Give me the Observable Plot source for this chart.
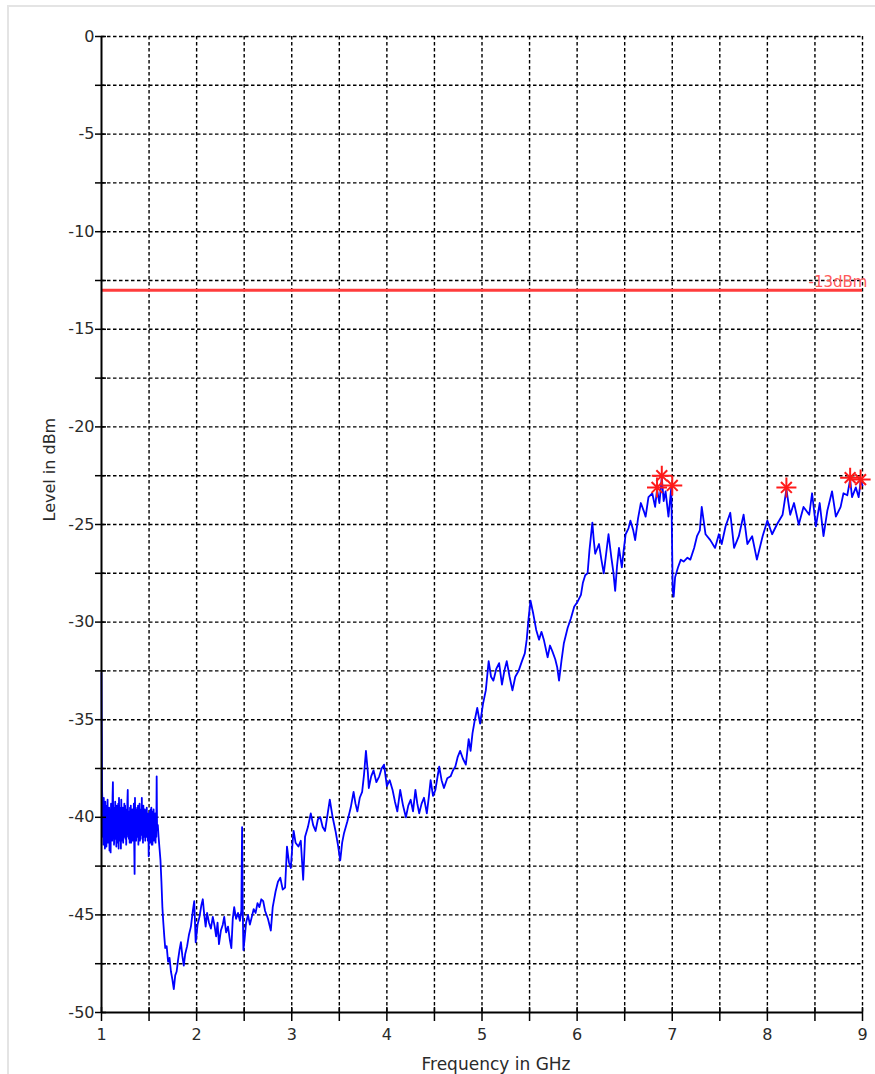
<!DOCTYPE html>
<html>
<head>
<meta charset="utf-8">
<script src="https://cdn.jsdelivr.net/npm/d3@7"></script>
<script src="https://cdn.jsdelivr.net/npm/@observablehq/plot@0.6"></script>
<style>
  html, body { margin: 0; padding: 0; background: #fff; }
  #wrap { position: relative; width: 875px; height: 1074px; overflow: hidden; }
  #frame { position: absolute; left: 7px; top: 5px; width: 870px; height: 1075px;
           border-top: 2px solid #e4e4e4; border-left: 2px solid #e4e4e4; pointer-events: none; }
  #chart { position: absolute; left: 0; top: 0; }
</style>
</head>
<body>
<div id="wrap"><div id="chart"></div><div id="frame"></div></div>
<script>
// ---- data ----
const xTitle = "Frequency in GHz";
const yTitle = "Level in dBm";
const xTicks = [1, 2, 3, 4, 5, 6, 7, 8, 9];
const xMinor = [1, 1.5, 2, 2.5, 3, 3.5, 4, 4.5, 5, 5.5, 6, 6.5, 7, 7.5, 8, 8.5, 9];
const yTicks = [0, -5, -10, -15, -20, -25, -30, -35, -40, -45, -50];
const yMinor = [0, -2.5, -5, -7.5, -10, -12.5, -15, -17.5, -20, -22.5, -25, -27.5, -30, -32.5, -35, -37.5, -40, -42.5, -45, -47.5, -50];

const limitLevel = -13;
const limitLabel = "-13dBm";

const markerFreq  = [6.84, 6.89, 7.00, 8.20, 8.87, 8.98];
const markerLevel = [-23.1, -22.5, -23.0, -23.1, -22.6, -22.7];

// [frequency GHz, level dBm]
const noiseBand = [
 [1.000,-32.6],[1.002,-34.9],[1.004,-36.2],[1.006,-38.6],
 [1.008,-38.9],[1.012,-41.0],[1.016,-39.3],[1.020,-41.4],[1.024,-39.0],[1.028,-40.9],[1.032,-39.6],[1.036,-41.6],[1.040,-39.2],[1.044,-41.1],
 [1.048,-39.7],[1.052,-41.5],[1.056,-39.4],[1.060,-40.8],[1.064,-39.1],[1.068,-41.3],[1.072,-39.8],[1.076,-41.0],[1.080,-39.5],[1.084,-41.7],
 [1.088,-39.6],[1.092,-40.9],[1.096,-41.8],[1.100,-39.3],[1.104,-40.7],[1.108,-39.4],[1.112,-41.2],[1.116,-39.0],[1.120,-38.2],[1.124,-40.9],
 [1.128,-39.5],[1.132,-41.4],[1.136,-39.9],[1.140,-41.0],[1.144,-39.2],[1.148,-41.1],[1.152,-39.6],[1.156,-41.5],[1.160,-39.4],[1.164,-40.8],
 [1.168,-39.7],[1.172,-41.3],[1.176,-39.3],[1.180,-41.6],[1.184,-39.0],[1.188,-40.9],[1.192,-39.8],[1.196,-41.2],[1.200,-39.5],[1.204,-41.6],
 [1.208,-39.1],[1.212,-41.2],[1.216,-39.6],[1.220,-40.9],[1.224,-39.5],[1.228,-41.3],[1.232,-39.9],[1.236,-41.0],[1.240,-39.3],[1.244,-40.7],
 [1.248,-39.4],[1.252,-41.1],[1.256,-39.8],[1.260,-41.4],[1.264,-39.6],[1.268,-41.0],[1.272,-39.2],[1.276,-38.6],[1.280,-40.8],[1.284,-39.7],
 [1.288,-41.1],[1.292,-39.8],[1.296,-41.3],[1.300,-39.5],[1.304,-40.9],[1.308,-39.4],[1.312,-41.3],[1.316,-39.9],[1.320,-41.0],[1.324,-39.6],
 [1.328,-41.2],[1.332,-39.6],[1.336,-40.7],[1.340,-39.3],[1.344,-41.4],[1.348,-42.9],[1.352,-39.0],[1.356,-40.9],[1.360,-39.6],[1.364,-41.2],
 [1.368,-39.8],[1.372,-41.0],[1.376,-39.5],[1.380,-40.7],[1.384,-39.4],[1.388,-41.4],[1.392,-39.7],[1.396,-40.8],[1.400,-39.3],[1.404,-41.2],
 [1.408,-39.7],[1.412,-41.1],[1.416,-39.6],[1.420,-40.9],[1.424,-39.0],[1.428,-40.9],[1.432,-39.8],[1.436,-41.3],[1.440,-39.4],[1.444,-41.0],
 [1.448,-39.8],[1.452,-40.6],[1.456,-39.6],[1.460,-41.2],[1.464,-39.9],[1.468,-41.0],[1.472,-40.1],[1.476,-39.5],[1.480,-41.0],[1.484,-39.8],
 [1.488,-41.2],[1.492,-39.9],[1.496,-42.0],[1.500,-39.8],[1.504,-41.1],[1.508,-39.7],[1.512,-41.3],[1.516,-39.6],[1.520,-40.9],[1.524,-39.5],
 [1.528,-41.4],[1.532,-39.9],[1.536,-41.4],[1.540,-39.7],[1.544,-40.9],[1.548,-39.6],[1.552,-41.2],[1.556,-40.0],[1.560,-41.2],[1.564,-39.8],
 [1.568,-41.3],[1.572,-40.2],[1.576,-41.0],[1.580,-37.9],[1.584,-40.5]
];
const lowBand = [
 [1.592,-40.4],[1.600,-41.0],[1.610,-41.6],[1.620,-42.2],[1.630,-43.3],[1.640,-44.6],[1.650,-45.4],[1.660,-46.1],
 [1.670,-46.7],[1.685,-46.6],[1.700,-47.4],[1.715,-47.2],[1.730,-47.9],[1.745,-48.3],[1.760,-48.8],[1.775,-48.1],
 [1.790,-47.9],[1.805,-47.3],[1.820,-46.8],[1.835,-46.4],[1.850,-47.1],[1.865,-47.6],[1.880,-47.0],[1.900,-46.6],
 [1.920,-46.0],[1.940,-45.6],[1.960,-44.8],[1.975,-44.3],[1.990,-46.4],[2.010,-45.5],[2.030,-45.1],[2.050,-44.5],
 [2.065,-44.2],[2.080,-45.0],[2.095,-45.6],[2.110,-44.9],[2.130,-45.4],[2.150,-45.7],[2.170,-45.1],[2.190,-45.6],
 [2.205,-46.1],[2.220,-45.4],[2.235,-46.5],[2.255,-45.8],[2.275,-45.5],[2.290,-45.1],[2.310,-45.9],[2.330,-45.6],
 [2.350,-46.3],[2.365,-46.7],[2.380,-45.2],[2.395,-44.6],[2.415,-45.2],[2.435,-44.9],[2.455,-45.3],[2.470,-44.8],
 [2.478,-40.5],[2.484,-44.5],[2.492,-46.8],[2.505,-46.2],[2.520,-45.4],[2.540,-45.0],[2.560,-45.5],[2.580,-45.1],
 [2.600,-44.7],[2.620,-44.9],[2.640,-44.4],[2.660,-44.6],[2.680,-44.2]
];
const midLowBand = [
 [2.700,-44.3],[2.720,-44.8],[2.750,-45.2],[2.780,-45.8],[2.800,-44.6],[2.830,-43.8],[2.855,-43.3],[2.880,-43.1],
 [2.905,-43.7],[2.930,-43.6],[2.950,-41.5],[2.970,-42.3],[2.990,-42.6],[3.010,-41.2],[3.020,-40.7],[3.040,-41.3],
 [3.070,-41.5],[3.095,-41.2],[3.120,-43.2],[3.140,-41.0],[3.170,-40.5],[3.200,-39.8],[3.225,-40.4],[3.250,-40.7],
 [3.275,-40.1],[3.300,-40.0],[3.325,-40.5],[3.350,-40.7],[3.375,-39.9],[3.400,-39.1],[3.430,-40.0],[3.460,-40.7],
 [3.485,-41.4],[3.510,-42.2],[3.530,-41.3],[3.550,-40.8],[3.585,-40.2],[3.620,-39.5],[3.650,-38.7],[3.670,-39.3],
 [3.690,-39.7],[3.715,-39.0],[3.740,-38.7],[3.760,-37.8],[3.780,-36.6],[3.800,-37.7],[3.810,-38.5],[3.835,-37.9],
 [3.860,-37.6],[3.890,-38.2],[3.920,-37.9],[3.945,-37.5],[3.970,-37.3],[4.000,-38.4],[4.030,-38.1],[4.060,-38.6],
 [4.085,-39.2],[4.110,-39.7],[4.140,-38.6],[4.170,-39.4],[4.200,-40.0],[4.225,-39.4],[4.250,-39.1],[4.275,-39.7],
 [4.300,-38.6],[4.320,-39.3],[4.340,-39.8],[4.365,-39.3],[4.390,-39.0],[4.420,-39.8],[4.440,-39.0],[4.460,-38.1],
 [4.485,-38.9],[4.510,-38.6],[4.530,-38.0],[4.550,-37.4],[4.575,-38.1],[4.600,-38.5],[4.635,-38.0],[4.670,-37.9],
 [4.695,-37.6],[4.720,-37.4],[4.745,-36.9],[4.770,-36.6],[4.800,-37.0],[4.830,-37.3],[4.860,-36.0],[4.880,-36.6]
];
const midHighBand = [
 [4.900,-35.7],[4.925,-35.0],[4.950,-34.4],[4.980,-35.2],[5.010,-34.2],[5.040,-33.5],[5.070,-32.0],[5.095,-32.8],
 [5.120,-33.0],[5.150,-32.4],[5.180,-32.1],[5.210,-33.2],[5.235,-32.5],[5.260,-32.0],[5.290,-32.8],[5.320,-33.5],
 [5.350,-32.8],[5.385,-32.5],[5.420,-32.0],[5.450,-31.6],[5.470,-30.9],[5.490,-29.8],[5.510,-28.9],[5.540,-29.6],
 [5.570,-30.4],[5.600,-30.9],[5.625,-30.5],[5.650,-30.9],[5.690,-31.8],[5.715,-31.2],[5.740,-31.5],[5.770,-31.9],
 [5.790,-32.3],[5.810,-33.0],[5.835,-32.0],[5.860,-31.1],[5.900,-30.3],[5.935,-29.8],[5.970,-29.2],[6.000,-29.0],
 [6.040,-28.6],[6.060,-28.0],[6.085,-27.6],[6.110,-27.5],[6.130,-26.3],[6.160,-24.9],[6.175,-25.8],[6.190,-26.5],
 [6.230,-26.0],[6.255,-26.8],[6.280,-27.5],[6.310,-26.3],[6.330,-25.5],[6.360,-26.7],[6.380,-27.4],[6.400,-28.4],
 [6.420,-27.1],[6.440,-26.2],[6.470,-27.2],[6.490,-26.3],[6.510,-25.5],[6.540,-25.2],[6.560,-24.8],[6.590,-25.3],
 [6.610,-25.8],[6.640,-24.7],[6.670,-23.9],[6.700,-24.3],[6.720,-24.6],[6.750,-23.6],[6.790,-23.4],[6.820,-24.1],
 [6.840,-23.2],[6.865,-23.9],[6.890,-22.6],[6.910,-23.8],[6.930,-23.3],[6.960,-24.6],[6.990,-23.1]
];
const highBand = [
 [7.005,-28.4],[7.015,-28.7],[7.030,-27.7],[7.060,-27.2],[7.090,-26.8],[7.120,-26.9],[7.160,-26.7],[7.190,-26.8],
 [7.230,-26.2],[7.260,-25.6],[7.290,-25.3],[7.310,-24.1],[7.350,-25.5],[7.400,-25.8],[7.450,-26.2],[7.490,-25.5],
 [7.520,-26.0],[7.560,-25.1],[7.610,-24.4],[7.650,-26.2],[7.700,-25.6],[7.750,-24.5],[7.790,-26.0],[7.840,-25.6],
 [7.890,-26.8],[7.950,-25.6],[8.000,-24.8],[8.050,-25.5],[8.100,-25.0],[8.160,-24.5],[8.200,-23.2],[8.240,-24.5],
 [8.280,-23.9],[8.330,-25.0],[8.380,-24.1],[8.440,-24.5],[8.470,-23.4],[8.510,-25.1],[8.550,-23.9],[8.590,-25.6],
 [8.630,-24.3],[8.680,-23.3],[8.720,-24.6],[8.770,-24.1],[8.800,-23.4],[8.840,-23.5],[8.870,-22.7],[8.890,-23.6],
 [8.930,-23.1],[8.960,-23.6],[8.980,-22.8],[9.000,-23.0]
];

// ---- build ----
const trace = [...noiseBand, ...lowBand, ...midLowBand, ...midHighBand, ...highBand]
  .map(([f, v]) => ({f, v}));
const markers = markerFreq.map((f, i) => ({f, v: markerLevel[i]}));
const font = "DejaVu Sans, Verdana, sans-serif";
const fmt = d => String(d); // plain hyphen-minus like the reference

const chart = Plot.plot({
  width: 875,
  height: 1074,
  marginLeft: 101,
  marginRight: 13,
  marginTop: 36,
  marginBottom: 62,
  style: {fontFamily: font, fontSize: "16px", color: "#2a2a2a", background: "transparent", overflow: "visible"},
  x: {domain: [1, 9], label: null},
  y: {domain: [-50, 0], label: null},
  marks: [
    // dashed grid
    Plot.ruleX(xMinor.filter(d => d !== 1), {stroke: "#000", strokeWidth: 1.4, strokeDasharray: "3.5,2.5"}),
    Plot.ruleY(yMinor.filter(d => d !== -50), {stroke: "#000", strokeWidth: 1.4, strokeDasharray: "3.5,2.5"}),
    // limit line + label
    Plot.text([limitLabel], {x: 9, y: limitLevel, text: d => d, textAnchor: "end", lineAnchor: "bottom",
      dx: 5, dy: -3, fill: "#ff5a5a", fontSize: 15, fontFamily: font}),
    Plot.ruleY([limitLevel], {stroke: "#ff3c3c", strokeWidth: 3}),
    // trace
    Plot.line(trace, {x: "f", y: "v", stroke: "#0000ff", strokeWidth: 1.8, strokeLinejoin: "round"}),
    // peak markers
    Plot.dot(markers, {x: "f", y: "v", symbol: "plus", r: 6.5, stroke: "#ff1a1a", strokeWidth: 2}),
    Plot.dot(markers, {x: "f", y: "v", symbol: "times", r: 5, stroke: "#ff1a1a", strokeWidth: 2}),
    // axis lines
    Plot.ruleX([1], {stroke: "#000", strokeWidth: 2}),
    Plot.ruleY([-50], {stroke: "#000", strokeWidth: 2}),
    // crossing tick marks
    Plot.axisX(xMinor, {anchor: "bottom", tickSize: 14, dy: -5, tickFormat: () => "", label: null, stroke: "#000", strokeWidth: 1.5}),
    Plot.axisY(yMinor, {anchor: "left", tickSize: 11, dx: 5, tickFormat: () => "", label: null, stroke: "#000", strokeWidth: 1.5}),
    // tick labels
    Plot.axisX(xTicks, {anchor: "bottom", tickSize: 0, tickPadding: 16, tickFormat: fmt, label: null, fontSize: 16, fill: "#2a2a2a"}),
    Plot.axisY(yTicks, {anchor: "left", tickSize: 0, tickPadding: 7, tickFormat: fmt, label: null, fontSize: 16, fill: "#2a2a2a"}),
    // axis titles
    Plot.text([xTitle], {frameAnchor: "bottom", text: d => d, dy: 52, dx: 14, lineAnchor: "middle", fontSize: 17, fill: "#2a2a2a"}),
    Plot.text([yTitle], {frameAnchor: "left", text: d => d, dx: -52, dy: -3, rotate: -90, lineAnchor: "middle", fontSize: 16, fill: "#2a2a2a"})
  ]
});
document.getElementById("chart").appendChild(chart);
</script>
</body>
</html>
